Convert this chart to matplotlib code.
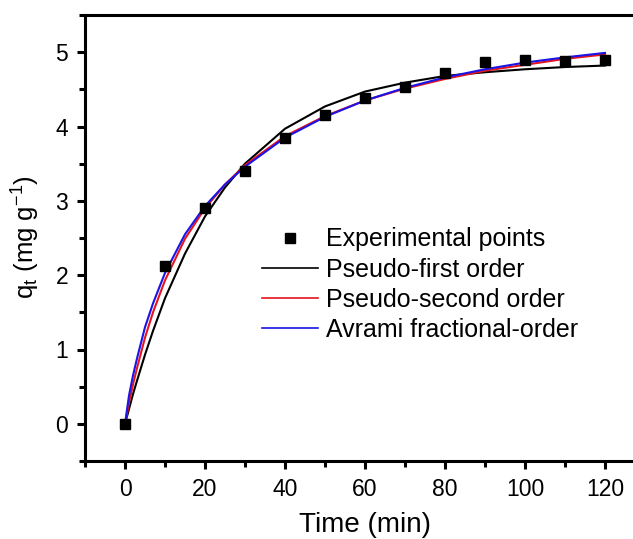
import numpy as np
import matplotlib.pyplot as plt
from matplotlib.ticker import MultipleLocator

plt.rcParams["font.family"] = ["Liberation Sans", "DejaVu Sans"]
plt.rcParams["mathtext.fontset"] = "custom"
plt.rcParams["mathtext.rm"] = "Liberation Sans"
plt.rcParams["mathtext.it"] = "Liberation Sans"

# experimental points
t_exp = [0, 10, 20, 30, 40, 50, 60, 70, 80, 90, 100, 110, 120]
q_exp = [0.0, 2.13, 2.91, 3.40, 3.84, 4.15, 4.38, 4.53, 4.72, 4.87, 4.90, 4.88, 4.90]

# fitted curves
t_fit = [0, 1, 2, 3, 5, 7, 10, 15, 20, 25, 30, 40, 50, 60, 70, 80, 90, 100, 110, 120]
q_pfo = [0.0, 0.20, 0.40, 0.58, 0.93, 1.25, 1.69, 2.29, 2.79, 3.18, 3.50, 3.97, 4.27,
         4.47, 4.59, 4.68, 4.73, 4.77, 4.80, 4.82]
q_pso = [0.0, 0.28, 0.53, 0.75, 1.16, 1.50, 1.93, 2.49, 2.90, 3.22, 3.48, 3.87, 4.14,
         4.35, 4.51, 4.64, 4.75, 4.83, 4.91, 4.97]
q_avr = [0.0, 0.38, 0.65, 0.88, 1.30, 1.62, 2.03, 2.55, 2.93, 3.22, 3.46, 3.85, 4.13,
         4.35, 4.52, 4.66, 4.77, 4.86, 4.93, 4.99]

fig = plt.figure(figsize=(6.33, 5.39), dpi=100)
ax = fig.add_axes([85 / 633, 1 - 461 / 539, 548 / 633, 446 / 539])

ax.plot(t_exp, q_exp, "s", color="black", markersize=7.5, label="Experimental points", zorder=5)
ax.plot(t_fit, q_pfo, color="black", lw=1.5, label="Pseudo-first order")
ax.plot(t_fit, q_pso, color="#e8141c", lw=1.5, label="Pseudo-second order")
ax.plot(t_fit, q_avr, color="#1a14e6", lw=1.5, label="Avrami fractional-order")

ax.set_xlim(-10, 127)
ax.set_ylim(-0.5, 5.5)
ax.xaxis.set_major_locator(MultipleLocator(20))
ax.xaxis.set_minor_locator(MultipleLocator(10))
ax.yaxis.set_major_locator(MultipleLocator(1))
ax.yaxis.set_minor_locator(MultipleLocator(0.5))
ax.spines["right"].set_visible(False)
for s in ["left", "bottom", "top"]:
    ax.spines[s].set_linewidth(2.2)
ax.tick_params(which="major", direction="out", length=6, width=2.2, labelsize=16.5, pad=6)
ax.tick_params(which="minor", direction="out", length=4, width=2.2)

ax.set_xlabel("Time (min)", fontsize=20)
ax.set_ylabel(r"q$_\mathrm{t}$ (mg g$^{-1}$)", fontsize=18.5)
ax.xaxis.set_label_coords((365 - 85) / 548, -0.115)
ax.yaxis.set_label_coords(-0.078, 0.502)

leg = ax.legend(loc="upper left", bbox_to_anchor=(0.323, 0.524), frameon=False, fontsize=18,
                handlelength=2.25, handletextpad=0.3, labelspacing=0.25, borderpad=0,
                borderaxespad=0)
for h in leg.get_lines():
    h.set_linewidth(1.2)

fig.savefig("out.png", dpi=100)
